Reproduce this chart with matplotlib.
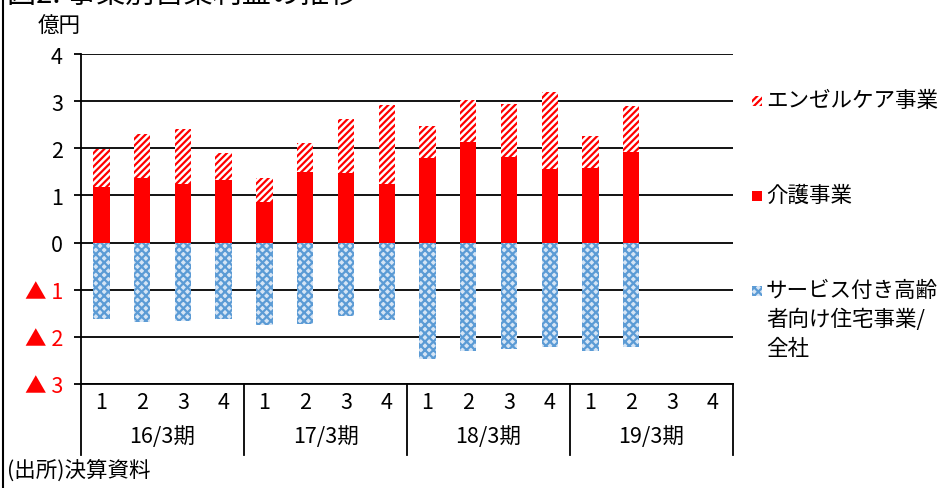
import numpy as np
import matplotlib.pyplot as plt
from matplotlib.patches import Rectangle
from matplotlib.lines import Line2D

plt.rcParams['font.family'] = ['Noto Sans CJK JP', 'DejaVu Sans']
plt.rcParams['hatch.linewidth'] = 1.6

# --- data (億円, quarterly) ---
fiscal_years = ['16/3期', '17/3期', '18/3期', '19/3期']
quarters = ['1', '2', '3', '4']
kaigo = [1.18, 1.36, 1.24, 1.32, 0.86, 1.49, 1.48, 1.24, 1.79, 2.13, 1.81, 1.56, 1.59, 1.93]
angel = [0.81, 0.94, 1.17, 0.57, 0.50, 0.62, 1.14, 1.68, 0.68, 0.90, 1.13, 1.63, 0.67, 0.96]
housing = [-1.62, -1.68, -1.67, -1.63, -1.74, -1.72, -1.56, -1.65,
           -2.48, -2.31, -2.25, -2.22, -2.31, -2.21]
y_ticks = [-3, -2, -1, 0, 1, 2, 3, 4]
y_labels = ['▲ 3', '▲ 2', '▲ 1', '0', '1', '2', '3', '4']
series_names = ['エンゼルケア事業', '介護事業', 'サービス付き高齢\n者向け住宅事業/\n全社']

RED = '#ff0000'
BLUE = '#5b9bd5'
LIGHT_BLUE = '#d6e5f5'
FS = 15.5
n_slots = len(fiscal_years) * len(quarters)

fig = plt.figure(figsize=(9.41, 4.89), dpi=100)
ax = fig.add_axes([0.0861, 0.2127, 0.6929, 0.6748])

x = np.arange(len(kaigo))
w = 0.4
ax.bar(x, kaigo, w, color=RED, linewidth=0, zorder=3)
ax.bar(x, angel, w, bottom=kaigo, facecolor='white', edgecolor=RED,
       hatch='/////', linewidth=0, zorder=3)
ax.bar(x, housing, w, facecolor=LIGHT_BLUE, edgecolor=BLUE,
       hatch='xxxx', linewidth=0, zorder=3)

ax.set_xlim(-0.5, n_slots - 0.5)
ax.set_ylim(-3, 4)
ax.set_yticks(y_ticks)
ax.set_yticklabels(y_labels, fontsize=FS)
for lbl, v in zip(ax.get_yticklabels(), y_ticks):
    lbl.set_color(RED if v < 0 else 'black')
ax.tick_params(axis='y', length=5, width=1.3, pad=8)
ax.set_xticks([])
ax.grid(axis='y', color='black', linewidth=1.3)
ax.set_axisbelow(True)
for s in ['top', 'right']:
    ax.spines[s].set_visible(False)
ax.spines['left'].set_linewidth(1.3)
ax.spines['bottom'].set_linewidth(1.3)

# two-level category axis
xt = ax.get_xaxis_transform()
for i in range(n_slots):
    ax.text(i, -0.055, quarters[i % 4], transform=xt,
            ha='center', va='center', fontsize=FS)
for g, fy in enumerate(fiscal_years):
    ax.text(g * 4 + 1.5, -0.158, fy, transform=xt,
            ha='center', va='center', fontsize=FS)
for xb in np.arange(-0.5, n_slots, 4):
    ax.add_line(Line2D([xb, xb], [0, -0.215], transform=xt,
                       color='black', lw=1.3, clip_on=False))

# legend
leg_y = [102, 197, 292]
styles = [dict(facecolor='white', edgecolor=RED, hatch='/////'),
          dict(facecolor=RED, edgecolor=RED),
          dict(facecolor=LIGHT_BLUE, edgecolor=BLUE, hatch='xxxx')]
for yy, name, st in zip(leg_y, series_names, styles):
    fy = 1 - yy / 489
    fig.add_artist(Rectangle((752 / 941, fy - 5 / 489), 10 / 941, 10 / 489,
                             transform=fig.transFigure, linewidth=0, **st))
    fig.text(766 / 941, fy + 12 / 489, name, fontsize=15.5, ha='left', va='top',
             linespacing=1.4)

fig.text(38 / 941, 1 - 27 / 489, '億円', fontsize=FS, ha='left', va='center')
fig.text(7 / 941, 1 - 11 / 489, '図2. 事業別営業利益の推移', fontsize=21,
         ha='left', va='bottom')
fig.text(7 / 941, 1 - 471 / 489, '(出所)決算資料', fontsize=FS, ha='left', va='center')
fig.add_artist(Line2D([3 / 941, 3 / 941], [0, 1], transform=fig.transFigure,
                      color='black', lw=1.5))

fig.savefig('out.png', dpi=100)
